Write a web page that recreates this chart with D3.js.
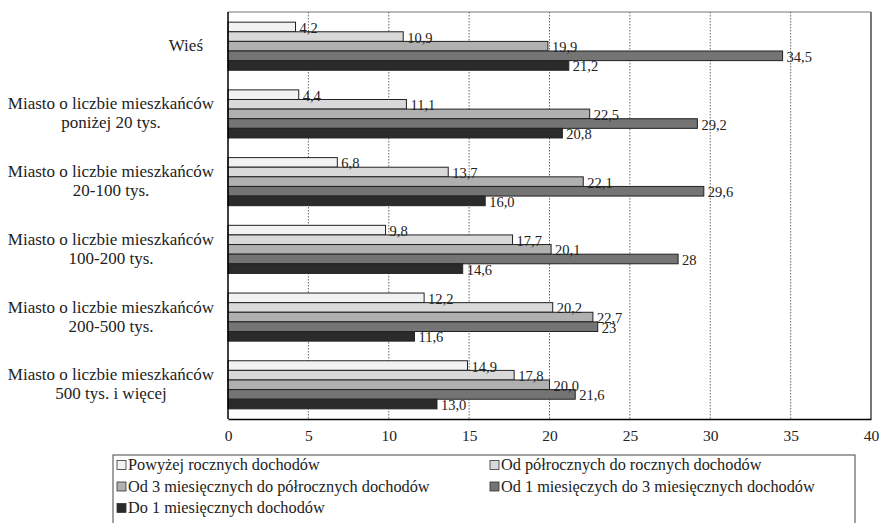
<!DOCTYPE html>
<html>
<head>
<meta charset="utf-8">
<script src="https://cdn.jsdelivr.net/npm/d3@7"></script>
<style>
body { margin: 0; background: #fff; }
svg text { font-family: "Liberation Serif", "Times New Roman", serif !important; }
</style>
</head>
<body>
<div class="content"></div>
<script>
var width = 881, height = 523;
var margin = {top: 12, right: 10, bottom: 104, left: 228};

var categories = [
	["Wieś"],
	["Miasto o liczbie mieszkańców", "poniżej 20 tys."],
	["Miasto o liczbie mieszkańców", "20-100 tys."],
	["Miasto o liczbie mieszkańców", "100-200 tys."],
	["Miasto o liczbie mieszkańców", "200-500 tys."],
	["Miasto o liczbie mieszkańców", "500 tys. i więcej"]
];
var seriesNames = [
	"Powyżej rocznych dochodów",
	"Od półrocznych do rocznych dochodów",
	"Od 3 miesięcznych do półrocznych dochodów",
	"Od 1 miesięczych do 3 miesięcznych dochodów",
	"Do 1 miesięcznych dochodów"
];
var powyzejRocznych = [4.2, 4.4, 6.8, 9.8, 12.2, 14.9];
var odPolrocznych = [10.9, 11.1, 13.7, 17.7, 20.2, 17.8];
var od3Miesiecznych = [19.9, 22.5, 22.1, 20.1, 22.7, 20.0];
var od1Miesiecznych = [34.5, 29.2, 29.6, 28, 23, 21.6];
var do1Miesiecznych = [21.2, 20.8, 16.0, 14.6, 11.6, 13.0];
var valueLabels = [
	["4,2", "4,4", "6,8", "9,8", "12,2", "14,9"],
	["10,9", "11,1", "13,7", "17,7", "20,2", "17,8"],
	["19,9", "22,5", "22,1", "20,1", "22,7", "20,0"],
	["34,5", "29,2", "29,6", "28", "23", "21,6"],
	["21,2", "20,8", "16,0", "14,6", "11,6", "13,0"]
];
var xTicks = [0, 5, 10, 15, 20, 25, 30, 35, 40];
var colors = ["#f2f2f2", "#d9d9d9", "#b0b0b0", "#747474", "#2b2b2b"];

var seriesValues = [powyzejRocznych, odPolrocznych, od3Miesiecznych, od1Miesiecznych, do1Miesiecznych];

var svg = d3.select(".content").append("svg")
	.attr("width", width)
	.attr("height", height);

var plotW = 871 - margin.left;
var plotH = 419 - margin.top;

var x = d3.scaleLinear().domain([0, 40]).range([margin.left, margin.left + plotW]);
var y0 = d3.scaleBand().domain(d3.range(categories.length))
	.range([margin.top, margin.top + plotH]).paddingInner(0.29).paddingOuter(0.15);
var y1 = d3.scaleBand().domain(d3.range(seriesNames.length)).range([0, y0.bandwidth()]);

// gridlines (dotted)
svg.append("g").selectAll("line")
	.data(xTicks.filter(function(t) { return t > 0 && t < 40; }))
	.enter().append("line")
	.attr("x1", function(d) { return x(d); })
	.attr("x2", function(d) { return x(d); })
	.attr("y1", margin.top)
	.attr("y2", margin.top + plotH)
	.attr("stroke", "#444")
	.attr("stroke-width", 0.8)
	.attr("stroke-dasharray", "1.5,1.5");

// frame top / right (grey)
svg.append("line").attr("x1", x(0)).attr("x2", x(40)).attr("y1", margin.top).attr("y2", margin.top)
	.attr("stroke", "#777").attr("stroke-width", 1.2);
svg.append("line").attr("x1", x(40)).attr("x2", x(40)).attr("y1", margin.top).attr("y2", margin.top + plotH)
	.attr("stroke", "#777").attr("stroke-width", 2);

// bars
var groups = svg.append("g").selectAll("g")
	.data(categories)
	.enter().append("g")
	.attr("transform", function(d, i) { return "translate(0," + y0(i) + ")"; });

function barData(d, i) {
	return seriesValues.map(function(s, j) { return {s: j, v: s[i], label: valueLabels[j][i]}; });
}

groups.selectAll("rect")
	.data(barData)
	.enter().append("rect")
	.attr("x", x(0))
	.attr("y", function(d) { return y1(d.s); })
	.attr("width", function(d) { return x(d.v) - x(0); })
	.attr("height", y1.bandwidth())
	.attr("fill", function(d) { return colors[d.s]; })
	.attr("stroke", "#222")
	.attr("stroke-width", 1);

groups.selectAll("text.val")
	.data(barData)
	.enter().append("text")
	.attr("class", "val")
	.attr("x", function(d) { return x(d.v) + 4; })
	.attr("y", function(d) { return y1(d.s) + y1.bandwidth() / 2 + 6; })
	.attr("font-size", 14.5)
	.attr("fill", "#222")
	.text(function(d) { return d.label; });

// axes
var xAxis = d3.axisBottom(x).tickValues(xTicks).tickSize(0).tickPadding(11);
var gx = svg.append("g").attr("transform", "translate(0," + (margin.top + plotH) + ")").call(xAxis);
gx.select(".domain").attr("stroke", "#000").attr("stroke-width", 1.5);
gx.selectAll("text").attr("font-size", 15.5).attr("fill", "#222");

svg.append("line").attr("x1", x(0)).attr("x2", x(0)).attr("y1", margin.top).attr("y2", margin.top + plotH)
	.attr("stroke", "#000").attr("stroke-width", 1.5);

// category labels
var catLabels = svg.append("g").selectAll("text")
	.data(categories)
	.enter().append("text")
	.attr("font-size", 17)
	.attr("fill", "#222")
	.attr("transform", function(d, i) { return "translate(111," + (y0(i) + y0.bandwidth() / 2) + ")"; });

catLabels.each(function(d) {
	var t = d3.select(this);
	var n = d.length;
	d.forEach(function(line, k) {
		t.append("tspan")
			.attr("x", n == 1 ? 92 : 0)
			.attr("text-anchor", n == 1 ? "end" : "middle")
			.attr("y", (k - (n - 1) / 2) * 19 + 5)
			.text(line);
	});
});

// legend
svg.append("rect")
	.attr("x", 113).attr("y", 455)
	.attr("width", 742).attr("height", 80)
	.attr("fill", "none").attr("stroke", "#444").attr("stroke-width", 1);

var legend = svg.append("g").selectAll("g")
	.data(seriesNames)
	.enter().append("g")
	.attr("transform", function(d, i) {
		return "translate(" + (i % 2 == 0 ? 117 : 490) + "," + (465 + Math.floor(i / 2) * 21.5) + ")";
	});

legend.append("rect")
	.attr("x", 0).attr("y", -4.5)
	.attr("width", 9).attr("height", 9)
	.attr("fill", function(d, i) { return colors[i]; })
	.attr("stroke", "#333").attr("stroke-width", 0.8);

legend.append("text")
	.attr("x", 11).attr("y", 5)
	.attr("font-size", 16.3)
	.attr("fill", "#222")
	.text(function(d) { return d; });
</script>
</body>
</html>
